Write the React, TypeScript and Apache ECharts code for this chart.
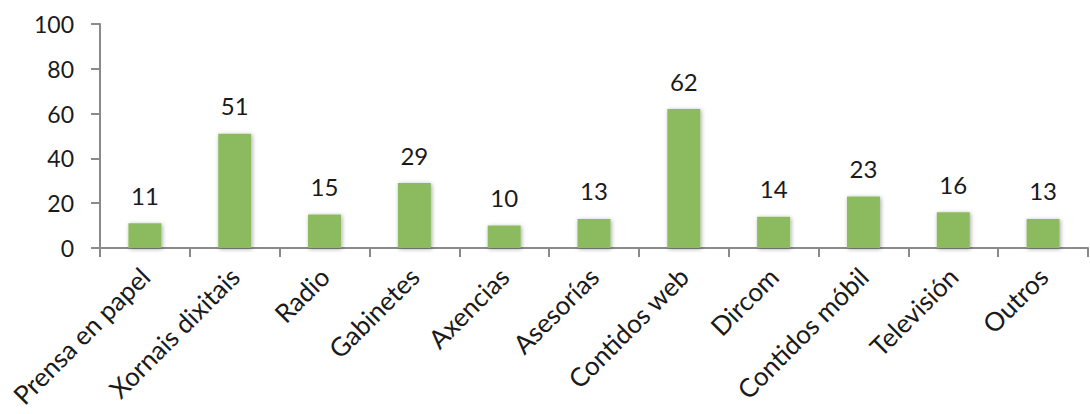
import React, { useEffect, useRef } from "react";
import * as echarts from "echarts";

const categories = [
  "Prensa en papel",
  "Xornais dixitais",
  "Radio",
  "Gabinetes",
  "Axencias",
  "Asesorías",
  "Contidos web",
  "Dircom",
  "Contidos móbil",
  "Televisión",
  "Outros",
];
const values = [11, 51, 15, 29, 10, 13, 62, 14, 23, 16, 13];
const yTicks = { min: 0, max: 100, interval: 20 };

export default function App() {
  const ref = useRef<HTMLDivElement>(null);
  useEffect(() => {
    if (!ref.current) return;
    const chart = echarts.init(ref.current, null, { renderer: "svg" });
    const font = "Lato, 'Open Sans', sans-serif";
    chart.setOption({
      animation: false,
      backgroundColor: "#ffffff",
      grid: { left: 100, right: 2, top: 24, bottom: 166, containLabel: false },
      xAxis: {
        type: "category",
        data: categories,
        boundaryGap: true,
        axisLine: { show: true, lineStyle: { color: "#8a8a8a", width: 2 } },
        axisTick: { show: true, length: 9, lineStyle: { color: "#8a8a8a", width: 2 } },
        axisLabel: {
          rotate: 45,
          interval: 0,
          margin: 24,
          color: "#1a1a1a",
          fontSize: 26,
          fontFamily: font,
        },
      },
      yAxis: {
        type: "value",
        min: yTicks.min,
        max: yTicks.max,
        interval: yTicks.interval,
        splitLine: { show: false },
        axisLine: { show: true, lineStyle: { color: "#8a8a8a", width: 2 } },
        axisTick: { show: true, length: 9, lineStyle: { color: "#8a8a8a", width: 2 } },
        axisLabel: {
          margin: 26,
          color: "#1a1a1a",
          fontSize: 23,
          fontFamily: font,
        },
      },
      series: [
        {
          type: "bar",
          data: values,
          barWidth: 33,
          itemStyle: {
            color: "#8cbb5e",
            shadowBlur: 4,
            shadowColor: "rgba(0,0,0,0.35)",
            shadowOffsetX: 1,
            shadowOffsetY: 1,
          },
          label: {
            show: true,
            position: "top",
            distance: 16,
            color: "#1a1a1a",
            fontSize: 24,
            fontFamily: font,
          },
        },
      ],
    });
    return () => chart.dispose();
  }, []);
  return (
    <div
      ref={ref}
      style={{ position: "absolute", left: 0, top: 0, width: 1090, height: 414 }}
    />
  );
}
